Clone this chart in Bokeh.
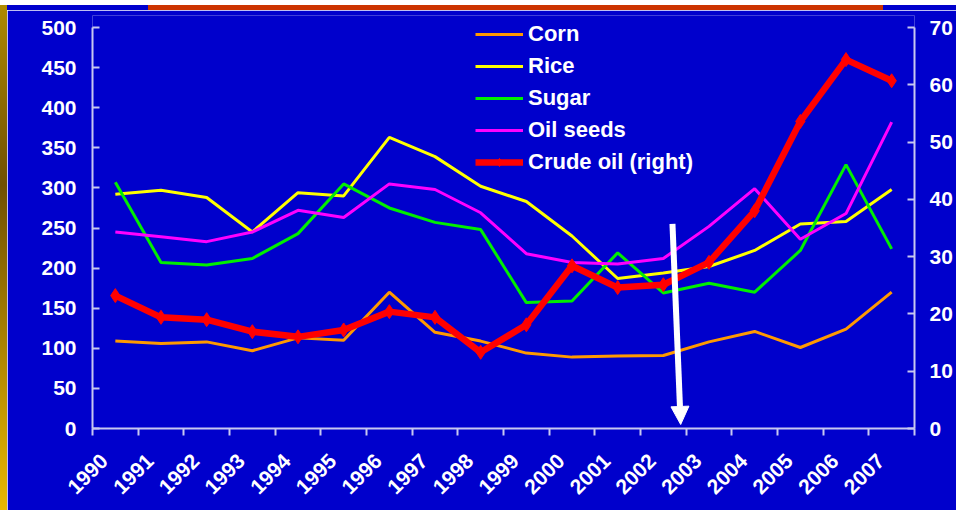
from bokeh.plotting import figure
from bokeh.layouts import column, row
from bokeh.models import (Range1d, LinearAxis, FixedTicker, SingleIntervalTicker,
                          Legend, LegendItem, Arrow, NormalHead, Div)
from bokeh.embed import file_html
from bokeh.resources import INLINE

years = [str(y) for y in range(1990, 2008)]
corn = [109, 106, 108, 97, 113, 110, 170, 120, 109, 94, 89, 90.5, 91, 108, 121, 101, 124, 170]
rice = [292, 297, 288, 245, 294, 290, 363, 339, 302, 283, 240, 187, 194, 202, 222, 255, 258, 298]
sugar = [307, 207, 204, 212, 243, 305, 275, 257, 248, 157, 159, 219, 169, 181, 170, 222, 329, 224]
oilseeds = [245, 239, 233, 245, 272, 263, 305, 298, 269, 218, 207, 205, 212, 252, 299, 236, 268, 382]
crude = [23.2, 19.4, 19.0, 16.9, 16.0, 17.2, 20.4, 19.4, 13.3, 18.1, 28.4, 24.6, 25.1, 29.0, 38.0, 53.6, 64.4, 60.7]

x = list(range(len(years)))

BG = "#0000CC"
AXC = "#C8C8F0"
FONT = "Liberation Sans"
W, H = 956, 510
EDGE_W, TOP_H = 7, 10           # golden left edge, top strip of the slide
PW, PH = W - EDGE_W, H - TOP_H  # figure size
LEFT_MAX, RIGHT_MAX = 500, 70
# figure-local pixel rows: frame top (room for legend), top tick, x axis
FRAME_TOP, AXIS_TOP, AXIS_BOTTOM = 5, 17, 418
head = (AXIS_BOTTOM - FRAME_TOP) / (AXIS_BOTTOM - AXIS_TOP)

p = figure(width=PW, height=PH, output_backend="svg", toolbar_location=None,
           x_range=Range1d(-0.5, len(years) - 0.5), y_range=Range1d(0, LEFT_MAX * head),
           min_border_left=85, min_border_right=42, min_border_top=FRAME_TOP,
           min_border_bottom=PH - AXIS_BOTTOM,
           background_fill_color=BG, border_fill_color=BG, outline_line_color=None)
p.grid.visible = False
p.extra_y_ranges = {"oil": Range1d(0, RIGHT_MAX * head)}


def style_axis(ax):
    ax.axis_line_color = AXC
    ax.axis_line_width = 2
    ax.major_tick_line_color = AXC
    ax.major_tick_line_width = 2
    ax.minor_tick_line_color = None
    ax.major_label_text_color = "white"
    ax.major_label_text_font = FONT
    ax.major_label_text_font_style = "bold"
    ax.major_label_text_font_size = "21px"


la = p.yaxis[0]
style_axis(la)
la.ticker = SingleIntervalTicker(interval=50, num_minor_ticks=0)
la.bounds = (0, LEFT_MAX)
la.major_tick_in = 7
la.major_tick_out = 0
la.major_label_standoff = 16

ra = LinearAxis(y_range_name="oil", ticker=SingleIntervalTicker(interval=10, num_minor_ticks=0))
style_axis(ra)
ra.bounds = (0, RIGHT_MAX)
ra.major_tick_in = 7
ra.major_tick_out = 0
ra.major_label_standoff = 15
p.add_layout(ra, "right")

label_shift = 0.24
label_ticks = [i - label_shift for i in x]
xa = p.xaxis[0]
style_axis(xa)
xa.ticker = FixedTicker(ticks=label_ticks, minor_ticks=[i - 0.5 for i in range(len(years) + 1)])
xa.major_label_overrides = {t: y for t, y in zip(label_ticks, years)}
xa.major_tick_line_color = None
xa.major_tick_in = 0
xa.major_tick_out = 0
xa.minor_tick_line_color = AXC
xa.minor_tick_line_width = 2
xa.minor_tick_in = 0
xa.minor_tick_out = 7
xa.major_label_orientation = 0.785398
xa.major_label_standoff = 22

r_corn = p.line(x, corn, line_color="#FF9900", line_width=3)
r_rice = p.line(x, rice, line_color="#FFFF00", line_width=3)
r_sugar = p.line(x, sugar, line_color="#00EE00", line_width=3)
r_seeds = p.line(x, oilseeds, line_color="#FF00FF", line_width=3)
r_crude = p.line(x, crude, line_color="#FF0000", line_width=6.5, y_range_name="oil")
r_crude_m = p.scatter(x, crude, marker="diamond", size=14, fill_color="#FF0000",
                      line_color="#FF0000", y_range_name="oil")

p.add_layout(Arrow(x_start=12.2, y_start=255, x_end=12.38, y_end=5,
                   line_color="white", line_width=6,
                   end=NormalHead(size=18, fill_color="white", line_color="white")))

legend = Legend(items=[
    LegendItem(label="Corn", renderers=[r_corn]),
    LegendItem(label="Rice", renderers=[r_rice]),
    LegendItem(label="Sugar", renderers=[r_sugar]),
    LegendItem(label="Oil seeds", renderers=[r_seeds]),
    LegendItem(label="Crude oil (right)", renderers=[r_crude, r_crude_m]),
], location=(383, 253), label_text_color="white", label_text_font=FONT,
    label_text_font_style="bold", label_text_font_size="22px",
    glyph_width=48, glyph_height=20, label_height=20, spacing=6,
    padding=0, margin=0, label_standoff=5,
    background_fill_alpha=0, border_line_color=None)
p.add_layout(legend)

# decorative slide frame: white top strip, red-orange rule, golden gradient edge
top_strip = Div(text="", width=W, height=TOP_H, margin=0, styles={
    "background": ("linear-gradient(#FFFFFF,#FFFFFF) 0 0 / 100% 5px no-repeat, "
                   "linear-gradient(#B08C00,#B08C00) 0 5px / 7px 5px no-repeat, "
                   "linear-gradient(#CC3300,#CC3300) 148px 5px / 735px 5px no-repeat, "
                   + BG)})
gold_edge = Div(text="", width=EDGE_W, height=PH, margin=0, styles={
    "background": "linear-gradient(to bottom, #AC8800 0%, #705000 35%, #E8B800 100%)"})

layout = column(top_strip, row(gold_edge, p, spacing=0), spacing=0)

open("out.html", "w").write(file_html(layout, INLINE))
